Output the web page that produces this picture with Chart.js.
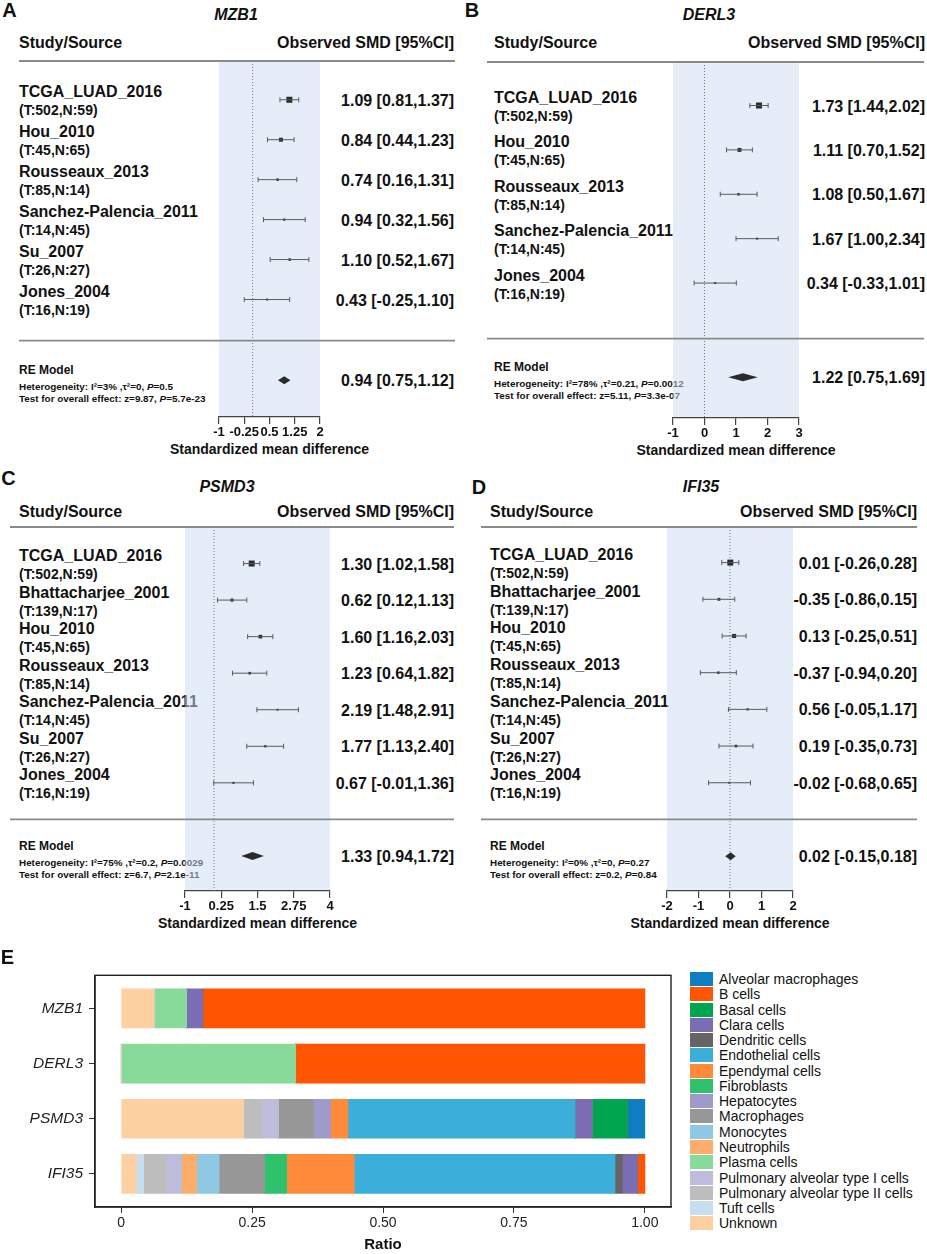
<!DOCTYPE html>
<html><head>
<meta charset="UTF-8">
<title>Forest plots and cell type ratios</title>
<script src="https://cdn.jsdelivr.net/npm/chart.js"></script>
<style>
  body { margin: 0; background: #fff; font-family: "Liberation Sans", Arial, sans-serif; color: #111; }
  #page { position: relative; width: 927px; height: 1254px; overflow: hidden; }
  .panel { position: absolute; }
  .panel canvas, #barWrap canvas { position: absolute; }
  .txt { position: absolute; white-space: nowrap; line-height: 1.15; font-weight: bold; }
  .letter { font-size: 20px; }
  .title { font-size: 16px; font-style: italic; }
  .hdr, .name, .val { font-size: 16px; }
  .sub { font-size: 14px; }
  .xt { font-size: 14px; }
  .re { font-size: 12px; }
  .stat { font-size: 9.9px; }
  .leg { position: absolute; font-size: 14px; font-weight: normal; white-space: nowrap; line-height: 1; }
  .leg span { position: absolute; left: 0; width: 23px; height: 14px; }
</style>
</head>
<body>
<div id="page">
  <div id="barWrap" style="position:absolute;left:0;top:960px;width:690px;height:294px;">
    <canvas id="barChart" width="690" height="294"></canvas>
  </div>
</div>

<script>
// ---------- A: MZB1
const MZB1_STUDIES = ['TCGA_LUAD_2016', 'Hou_2010', 'Rousseaux_2013', 'Sanchez-Palencia_2011', 'Su_2007', 'Jones_2004'];
const MZB1_SAMPLES = ['(T:502,N:59)', '(T:45,N:65)', '(T:85,N:14)', '(T:14,N:45)', '(T:26,N:27)', '(T:16,N:19)'];
const MZB1_SMD  = [1.09, 0.84, 0.74, 0.94, 1.10, 0.43];
const MZB1_LOW  = [0.81, 0.44, 0.16, 0.32, 0.52, -0.25];
const MZB1_HIGH = [1.37, 1.23, 1.31, 1.56, 1.67, 1.10];
const MZB1_POOLED = [0.94, 0.75, 1.12];
const MZB1_TICKS = [-1, -0.25, 0.5, 1.25, 2];
const MZB1_STATS = ['3%', '0', '0.5', '9.87', '5.7e-23'];

// ---------- B: DERL3
const DERL3_STUDIES = ['TCGA_LUAD_2016', 'Hou_2010', 'Rousseaux_2013', 'Sanchez-Palencia_2011', 'Jones_2004'];
const DERL3_SAMPLES = ['(T:502,N:59)', '(T:45,N:65)', '(T:85,N:14)', '(T:14,N:45)', '(T:16,N:19)'];
const DERL3_SMD  = [1.73, 1.11, 1.08, 1.67, 0.34];
const DERL3_LOW  = [1.44, 0.70, 0.50, 1.00, -0.33];
const DERL3_HIGH = [2.02, 1.52, 1.67, 2.34, 1.01];
const DERL3_POOLED = [1.22, 0.75, 1.69];
const DERL3_TICKS = [-1, 0, 1, 2, 3];
const DERL3_STATS = ['78%', '0.21', '0.0012', '5.11', '3.3e-07'];

// ---------- C: PSMD3
const PSMD3_STUDIES = ['TCGA_LUAD_2016', 'Bhattacharjee_2001', 'Hou_2010', 'Rousseaux_2013', 'Sanchez-Palencia_2011', 'Su_2007', 'Jones_2004'];
const PSMD3_SAMPLES = ['(T:502,N:59)', '(T:139,N:17)', '(T:45,N:65)', '(T:85,N:14)', '(T:14,N:45)', '(T:26,N:27)', '(T:16,N:19)'];
const PSMD3_SMD  = [1.30, 0.62, 1.60, 1.23, 2.19, 1.77, 0.67];
const PSMD3_LOW  = [1.02, 0.12, 1.16, 0.64, 1.48, 1.13, -0.01];
const PSMD3_HIGH = [1.58, 1.13, 2.03, 1.82, 2.91, 2.40, 1.36];
const PSMD3_POOLED = [1.33, 0.94, 1.72];
const PSMD3_TICKS = [-1, 0.25, 1.5, 2.75, 4];
const PSMD3_STATS = ['75%', '0.2', '0.0029', '6.7', '2.1e-11'];

// ---------- D: IFI35
const IFI35_STUDIES = PSMD3_STUDIES;
const IFI35_SAMPLES = PSMD3_SAMPLES;
const IFI35_SMD  = [0.01, -0.35, 0.13, -0.37, 0.56, 0.19, -0.02];
const IFI35_LOW  = [-0.26, -0.86, -0.25, -0.94, -0.05, -0.35, -0.68];
const IFI35_HIGH = [0.28, 0.15, 0.51, 0.20, 1.17, 0.73, 0.65];
const IFI35_POOLED = [0.02, -0.15, 0.18];
const IFI35_TICKS = [-2, -1, 0, 1, 2];
const IFI35_STATS = ['0%', '0', '0.27', '0.2', '0.84'];

// ---------- E: cell type ratios (legend order)
const GENES = ['MZB1', 'DERL3', 'PSMD3', 'IFI35'];
const CELL_TYPES = ['Alveolar macrophages', 'B cells', 'Basal cells', 'Clara cells', 'Dendritic cells',
  'Endothelial cells', 'Ependymal cells', 'Fibroblasts', 'Hepatocytes', 'Macrophages', 'Monocytes',
  'Neutrophils', 'Plasma cells', 'Pulmonary alveolar type I cells', 'Pulmonary alveolar type II cells',
  'Tuft cells', 'Unknown'];
const CELL_COLORS = ['#0F7DC2', '#FF5500', '#00A550', '#7A6DB3', '#656565', '#3BAFDA', '#FF8A3A',
  '#2FC26D', '#9E9BCB', '#979797', '#8EC8E2', '#FDAC6C', '#88DA9A', '#BDBCDC', '#BDBDBD', '#C5DEF0', '#FDD0A2'];
const MZB1_RATIO  = [0, 0.844, 0, 0.031, 0, 0, 0, 0, 0, 0, 0, 0, 0.062, 0, 0, 0, 0.063];
const DERL3_RATIO = [0, 0.667, 0, 0, 0, 0, 0, 0, 0, 0, 0, 0, 0.333, 0, 0, 0, 0];
const PSMD3_RATIO = [0.033, 0, 0.067, 0.033, 0, 0.434, 0.033, 0, 0.033, 0.067, 0, 0, 0, 0.033, 0.033, 0, 0.234];
const IFI35_RATIO = [0, 0.014, 0, 0.029, 0.014, 0.498, 0.129, 0.043, 0, 0.086, 0.043, 0.029, 0, 0.029, 0.043, 0.014, 0.029];
const RATIO_TICKS = [0, 0.25, 0.5, 0.75, 1];
const RATIO_TICK_LABELS = ['0', '0.25', '0.50', '0.75', '1.00'];

const FONT = '"Liberation Sans", Arial, sans-serif';
const MARK_COLOR = '#2b2b2b';
const CI_COLOR = '#5a5a5a';
const RULE_COLOR = '#8a8a8a';
Chart.defaults.font.family = FONT;

const page = document.getElementById('page');

function place(parent, cls, html, x, y, align) {
  const d = document.createElement('div');
  d.className = 'txt ' + cls;
  d.innerHTML = html;
  d.style.left = x + 'px';
  d.style.top = y + 'px';
  const tx = align === 'right' ? '-100%' : align === 'center' ? '-50%' : '0';
  d.style.transform = 'translate(' + tx + ',-50%)';
  parent.appendChild(d);
  return d;
}

const fmt = v => v.toFixed(2);
const ciText = (e, lo, hi) => fmt(e) + ' [' + fmt(lo) + ',' + fmt(hi) + ']';

// shading, rules, zero line and pooled diamond
const forestDecor = {
  id: 'forestDecor',
  beforeDraw(chart, args, o) {
    const a = chart.chartArea, ctx = chart.ctx;
    ctx.save();
    ctx.fillStyle = 'rgba(203,221,241,0.5)';
    ctx.fillRect(a.left, a.top, a.right - a.left, a.bottom - a.top);
    ctx.restore();
  },
  beforeDatasetsDraw(chart, args, o) {
    const a = chart.chartArea, ctx = chart.ctx;
    const x0 = chart.scales.x.getPixelForValue(0);
    ctx.save();
    ctx.strokeStyle = '#777';
    ctx.lineWidth = 1;
    ctx.setLineDash([1, 2]);
    ctx.beginPath();
    ctx.moveTo(x0, a.top);
    ctx.lineTo(x0, a.bottom);
    ctx.stroke();
    ctx.restore();
  },
  afterDatasetsDraw(chart, args, o) {
    const a = chart.chartArea, ctx = chart.ctx;
    const xs = chart.scales.x, ys = chart.scales.y;
    ctx.save();
    ctx.strokeStyle = RULE_COLOR;
    ctx.lineWidth = 1.8;
    [a.top, ys.getPixelForValue(o.sepRow)].forEach(y => {
      ctx.beginPath();
      ctx.moveTo(o.lineX[0], y);
      ctx.lineTo(o.lineX[1], y);
      ctx.stroke();
    });
    const yc = ys.getPixelForValue(o.sumRow);
    ctx.fillStyle = MARK_COLOR;
    ctx.beginPath();
    ctx.moveTo(xs.getPixelForValue(o.pooled[1]), yc);
    ctx.lineTo(xs.getPixelForValue(o.pooled[0]), yc - 4);
    ctx.lineTo(xs.getPixelForValue(o.pooled[2]), yc);
    ctx.lineTo(xs.getPixelForValue(o.pooled[0]), yc + 4);
    ctx.closePath();
    ctx.fill();
    ctx.restore();
  }
};

function buildForest(p) {
  const L = p.layout;
  const panel = document.createElement('div');
  panel.className = 'panel';
  panel.style.left = L.left + 'px';
  panel.style.top = L.top + 'px';
  panel.style.width = L.width + 'px';
  panel.style.height = '470px';
  page.appendChild(panel);

  const canvasTop = L.lineY - 2;
  const canvas = document.createElement('canvas');
  canvas.width = L.width;
  canvas.height = L.plotB - canvasTop + 26;
  canvas.style.left = '0px';
  canvas.style.top = canvasTop + 'px';

  // marker size grows with precision (1 / CI width)
  const w = p.low.map((lo, i) => 1 / (p.high[i] - lo));
  const wMin = Math.min(...w), wMax = Math.max(...w);
  const radius = w.map(v => (2 + 4 * (v - wMin) / (wMax - wMin)) / Math.SQRT2);

  const datasets = p.smd.map((_, i) => ({
    data: [{x: p.low[i], y: i}, {x: p.high[i], y: i}],
    showLine: true,
    borderColor: CI_COLOR,
    borderWidth: 1,
    pointStyle: 'line',
    pointRotation: 90,
    pointRadius: 2.5,
    pointBorderColor: CI_COLOR,
    pointBorderWidth: 1
  }));
  datasets.push({
    data: p.smd.map((v, i) => ({x: v, y: i})),
    showLine: false,
    pointStyle: 'rect',
    pointRadius: radius,
    backgroundColor: MARK_COLOR,
    borderWidth: 0
  });

  const chart = new Chart(canvas, {
    type: 'scatter',
    data: {datasets},
    options: {
      responsive: false,
      animation: false,
      events: [],
      layout: {padding: {left: L.plotX[0], right: L.width - L.plotX[1], top: 2, bottom: 0}},
      plugins: {
        legend: {display: false},
        tooltip: {enabled: false},
        forestDecor: {sepRow: L.sepRow, sumRow: L.sumRow, lineX: L.lineX, pooled: p.pooled}
      },
      scales: {
        x: {
          type: 'linear',
          min: p.ticks[0],
          max: p.ticks[p.ticks.length - 1],
          afterBuildTicks: s => { s.ticks = p.ticks.map(v => ({value: v})); },
          afterFit: s => { s.height = 26; },
          grid: {drawOnChartArea: false, drawTicks: true, tickLength: 7, color: '#444', lineWidth: 1.2},
          border: {display: true, color: '#444', width: 1.2},
          ticks: {color: '#111', autoSkip: false, maxRotation: 0, padding: 1,
                  font: {size: 13, weight: 'bold'}, callback: v => String(v)}
        },
        y: {type: 'linear', display: false, reverse: true, min: L.yRange[0], max: L.yRange[1]}
      }
    },
    plugins: [forestDecor]
  });

  const ys = chart.scales.y;
  const yAt = v => canvasTop + ys.getPixelForValue(v);

  place(panel, 'letter', p.id, L.letter[0], L.letter[1], 'center');
  place(panel, 'title', p.gene, L.title[0], L.title[1], 'center');
  place(panel, 'hdr', 'Study/Source', L.textX, L.hdrY, 'left');
  place(panel, 'hdr', 'Observed SMD [95%CI]', L.valX, L.hdrY, 'right');
  p.studies.forEach((s, i) => {
    place(panel, 'name', s, L.textX, yAt(i) - 7.5, 'left');
    place(panel, 'sub', p.samples[i], L.textX, yAt(i) + 10.5, 'left');
    place(panel, 'val', ciText(p.smd[i], p.low[i], p.high[i]), L.valX, yAt(i) + 1, 'right');
  });
  const ySum = yAt(L.sumRow);
  const st = p.stats;
  place(panel, 're', 'RE Model', L.textX, ySum - 9, 'left');
  place(panel, 'stat', 'Heterogeneity: I²=' + st[0] + ' ,τ²=' + st[1] + ', <i>P</i>=' + st[2], L.textX, ySum + 7, 'left');
  place(panel, 'stat', 'Test for overall effect: z=' + st[3] + ', <i>P</i>=' + st[4], L.textX, ySum + 19, 'left');
  place(panel, 'val', ciText(p.pooled[0], p.pooled[1], p.pooled[2]), L.valX, ySum + 1, 'right');
  place(panel, 'xt', 'Standardized mean difference', (chart.chartArea.left + chart.chartArea.right) / 2,
        canvasTop + chart.chartArea.bottom + 32, 'center');

  panel.appendChild(canvas);
}

buildForest({
  id: 'A', gene: 'MZB1', studies: MZB1_STUDIES, samples: MZB1_SAMPLES, smd: MZB1_SMD, low: MZB1_LOW,
  high: MZB1_HIGH, pooled: MZB1_POOLED, ticks: MZB1_TICKS, stats: MZB1_STATS,
  layout: {left: 0, top: 0, width: 460, letter: [9.5, 10], title: [236, 15], textX: 19, valX: 454, hdrY: 43,
           lineX: [19, 455], lineY: 58, plotX: [219, 320], plotB: 417, yRange: [-0.97, 7.94], sepRow: 6.03, sumRow: 7.02}
});
buildForest({
  id: 'B', gene: 'DERL3', studies: DERL3_STUDIES, samples: DERL3_SAMPLES, smd: DERL3_SMD, low: DERL3_LOW,
  high: DERL3_HIGH, pooled: DERL3_POOLED, ticks: DERL3_TICKS, stats: DERL3_STATS,
  layout: {left: 460, top: 0, width: 467, letter: [12, 10], title: [249, 15], textX: 34, valX: 465, hdrY: 43,
           lineX: [27, 464], lineY: 59, plotX: [213, 339], plotB: 418, yRange: [-0.98, 7.04], sepRow: 5.25, sumRow: 6.12}
});
buildForest({
  id: 'C', gene: 'PSMD3', studies: PSMD3_STUDIES, samples: PSMD3_SAMPLES, smd: PSMD3_SMD, low: PSMD3_LOW,
  high: PSMD3_HIGH, pooled: PSMD3_POOLED, ticks: PSMD3_TICKS, stats: PSMD3_STATS,
  layout: {left: 0, top: 470, width: 460, letter: [8.5, 7.5], title: [227, 17], textX: 19, valX: 454, hdrY: 42,
           lineX: [10, 454], lineY: 54, plotX: [185, 330], plotB: 421, yRange: [-1.0, 8.96], sepRow: 7.0, sumRow: 8.0}
});
buildForest({
  id: 'D', gene: 'IFI35', studies: IFI35_STUDIES, samples: IFI35_SAMPLES, smd: IFI35_SMD, low: IFI35_LOW,
  high: IFI35_HIGH, pooled: IFI35_POOLED, ticks: IFI35_TICKS, stats: IFI35_STATS,
  layout: {left: 460, top: 470, width: 467, letter: [19, 17], title: [241, 17], textX: 30, valX: 457, hdrY: 42,
           lineX: [21, 457], lineY: 54, plotX: [207, 333], plotB: 421, yRange: [-0.97, 8.95], sepRow: 7.0, sumRow: 8.0}
});

// ---------- panel E
const RATIOS = [MZB1_RATIO, DERL3_RATIO, PSMD3_RATIO, IFI35_RATIO];
const stackOrder = CELL_TYPES.map((_, k) => k).reverse();

const panelBox = {
  id: 'panelBox',
  afterDraw(chart) {
    const a = chart.chartArea, ctx = chart.ctx;
    ctx.save();
    ctx.strokeStyle = '#222';
    ctx.lineWidth = 1.4;
    ctx.strokeRect(a.left, a.top, a.right - a.left, a.bottom - a.top);
    ctx.restore();
  }
};

new Chart(document.getElementById('barChart'), {
  type: 'bar',
  data: {
    datasets: stackOrder.map(k => ({
      label: CELL_TYPES[k],
      backgroundColor: CELL_COLORS[k],
      borderWidth: 0,
      barThickness: 39,
      data: GENES.map((g, gi) => ({x: RATIOS[gi][k], y: gi}))
    }))
  },
  options: {
    indexAxis: 'y',
    responsive: false,
    animation: false,
    events: [],
    layout: {padding: {left: 0, right: 19, top: 15, bottom: 0}},
    plugins: {legend: {display: false}, tooltip: {enabled: false}},
    scales: {
      x: {
        type: 'linear', stacked: true, min: -0.05, max: 1.05, offset: false,
        afterBuildTicks: s => { s.ticks = RATIO_TICKS.map(v => ({value: v})); },
        afterFit: s => { s.height = 47; },
        grid: {drawOnChartArea: false, tickLength: 6, color: '#333'},
        border: {display: true, color: '#222', width: 1.4},
        ticks: {color: '#222', font: {size: 14}, padding: 2, maxRotation: 0, autoSkip: false,
                callback: (v, i) => RATIO_TICK_LABELS[i]},
        title: {display: true, text: 'Ratio', color: '#111', font: {size: 15, weight: 'bold'}, padding: {top: 0, bottom: 0}}
      },
      y: {
        type: 'linear', stacked: true, reverse: true, min: -0.6, max: 3.6, offset: false,
        afterBuildTicks: s => { s.ticks = GENES.map((_, i) => ({value: i})); },
        afterFit: s => { s.width = 95; },
        grid: {drawOnChartArea: false, tickLength: 6, color: '#333', offset: false},
        border: {display: true, color: '#222', width: 1.4},
        ticks: {color: '#222', font: {size: 15.5, style: 'italic'}, padding: 6, autoSkip: false,
                callback: v => GENES[v]}
      }
    }
  },
  plugins: [panelBox]
});

place(page, 'letter', 'E', 7.5, 956.5, 'center');

// legend for panel E
CELL_TYPES.forEach((name, k) => {
  const row = document.createElement('div');
  row.className = 'leg';
  row.style.left = '690px';
  row.style.top = (979 + k * 15.27 - 7) + 'px';
  row.style.height = '14px';
  row.innerHTML = '<span style="background:' + CELL_COLORS[k] + '"></span>' +
    '<div style="position:absolute;left:29px;top:7px;transform:translateY(-50%);">' + name + '</div>';
  page.appendChild(row);
});
</script>
</body></html>
